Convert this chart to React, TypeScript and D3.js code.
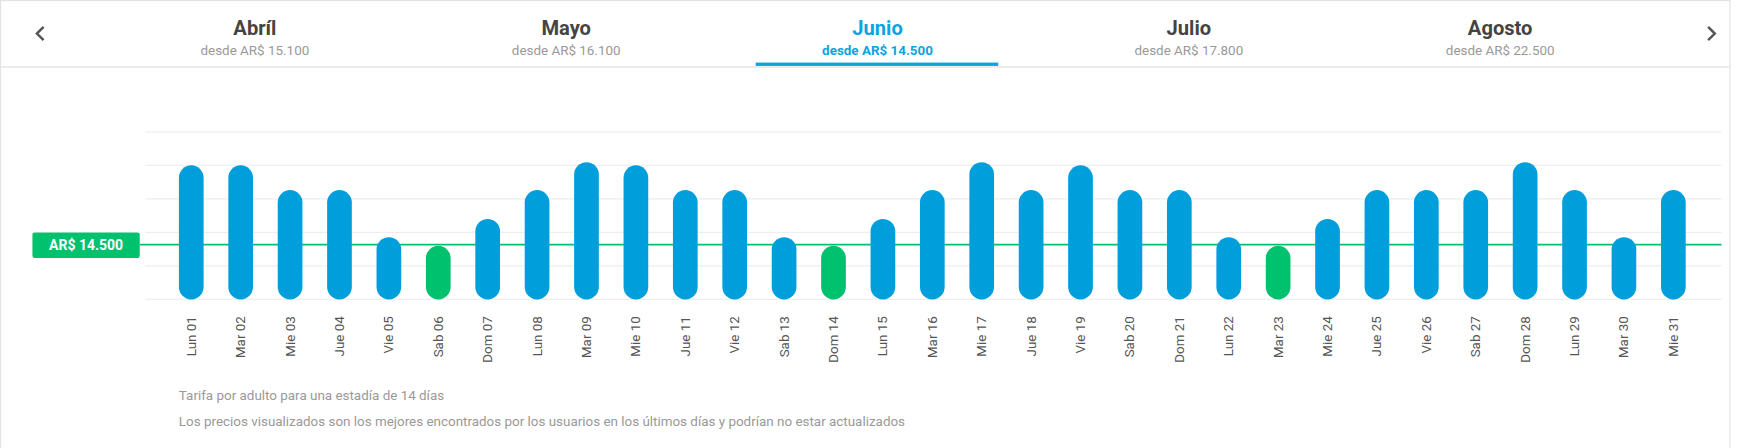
import { useEffect } from 'react';
import * as d3 from 'd3';

const BLUE = '#009fdc';
const GREEN = '#00c16e';

const months = ['Abríl', 'Mayo', 'Junio', 'Julio', 'Agosto'];
const monthPrices = ['desde AR$ 15.100', 'desde AR$ 16.100', 'desde AR$ 14.500', 'desde AR$ 17.800', 'desde AR$ 22.500'];
const activeMonth = 2;

const days = [
  'Lun 01', 'Mar 02', 'Mie 03', 'Jue 04', 'Vie 05', 'Sab 06', 'Dom 07', 'Lun 08', 'Mar 09', 'Mie 10',
  'Jue 11', 'Vie 12', 'Sab 13', 'Dom 14', 'Lun 15', 'Mar 16', 'Mie 17', 'Jue 18', 'Vie 19', 'Sab 20',
  'Dom 21', 'Lun 22', 'Mar 23', 'Mie 24', 'Jue 25', 'Vie 26', 'Sab 27', 'Dom 28', 'Lun 29', 'Mar 30', 'Mie 31',
];
const prices = [
  18250, 18250, 17100, 17100, 14900, 14500, 15750, 17100, 18400, 18250,
  17100, 17100, 14900, 14500, 15750, 17100, 18400, 17100, 18250, 17100,
  17100, 14900, 14500, 15750, 17100, 17100, 17100, 18400, 17100, 14900, 17100,
];
const minPrice = 14500;
const gridValues = [12000, 13562.5, 15125, 16687.5, 18250, 19812.5];
const notes = [
  'Tarifa por adulto para una estadía de 14 días',
  'Los precios visualizados son los mejores encontrados por los usuarios en los últimos días y podrían no estar actualizados',
];

const W = 1561, H = 401;
const FONT = 'Roboto, "Noto Sans", sans-serif';

export default function App() {
  useEffect(() => { document.body.style.margin = '0'; }, []);

  const x = d3.scaleBand().domain(days).range([149, 1519]).paddingInner(0.5).paddingOuter(0.25);
  const y = d3.scaleLinear().domain([12000, 19812.5]).range([268, 118]);
  const bw = x.bandwidth();
  const tabX = d3.scalePoint().domain(months).range([228, 1342]);

  return (
    <svg width={1745} height={448} viewBox={`0 0 ${W} ${H}`} preserveAspectRatio="none" style={{ display: 'block', fontFamily: FONT }}>
      <rect x={0.5} y={0.5} width={1547} height={H + 5} fill="#fff" stroke="#e2e2e2" />
      <line x1={0} x2={1548} y1={60} y2={60} stroke="#e6e6e6" strokeWidth={1.5} />
      <path d="M39 24 L33 30 L39 36" fill="none" stroke="#555" strokeWidth={2.2} />
      <path d="M1528 24 L1534 30 L1528 36" fill="none" stroke="#555" strokeWidth={2.2} />
      {months.map((m, i) => (
        <g key={m}>
          <text x={tabX(m)} y={31} textAnchor="middle" fontSize={18} fontWeight={700}
            fill={i === activeMonth ? '#0aa4e0' : '#444'}>{m}</text>
          <text x={tabX(m)} y={49} textAnchor="middle" fontSize={12} fontWeight={i === activeMonth ? 700 : 400}
            fill={i === activeMonth ? '#0aa4e0' : '#999'}>{monthPrices[i]}</text>
        </g>
      ))}
      <rect x={676} y={56} width={217} height={3} fill="#0aa4e0" />

      {gridValues.map((v) => (
        <line key={v} x1={130} x2={1540} y1={y(v)} y2={y(v)} stroke="#eeeeee" strokeWidth={1} />
      ))}
      <line x1={125} x2={1540} y1={y(minPrice) - 1} y2={y(minPrice) - 1} stroke={GREEN} strokeWidth={1.5} />
      <rect x={29} y={y(minPrice) - 12} width={96} height={23} rx={2} fill={GREEN} />
      <text x={77} y={y(minPrice) + 4} textAnchor="middle" fontSize={12.5} fontWeight={700} fill="#fff">AR$ 14.500</text>

      {days.map((d, i) => (
        <g key={d}>
          <rect x={x(d)} y={y(prices[i])} width={bw} height={y(12000) - y(prices[i])} rx={bw / 2}
            fill={prices[i] === minPrice ? GREEN : BLUE} />
          <text transform={`translate(${(x(d) ?? 0) + bw / 2 + 4},283) rotate(-90)`} textAnchor="end"
            fontSize={12} fill="#555">{d}</text>
        </g>
      ))}

      {notes.map((n, i) => (
        <text key={n} x={160} y={358 + i * 23} fontSize={12} fill="#999">{n}</text>
      ))}
    </svg>
  );
}
